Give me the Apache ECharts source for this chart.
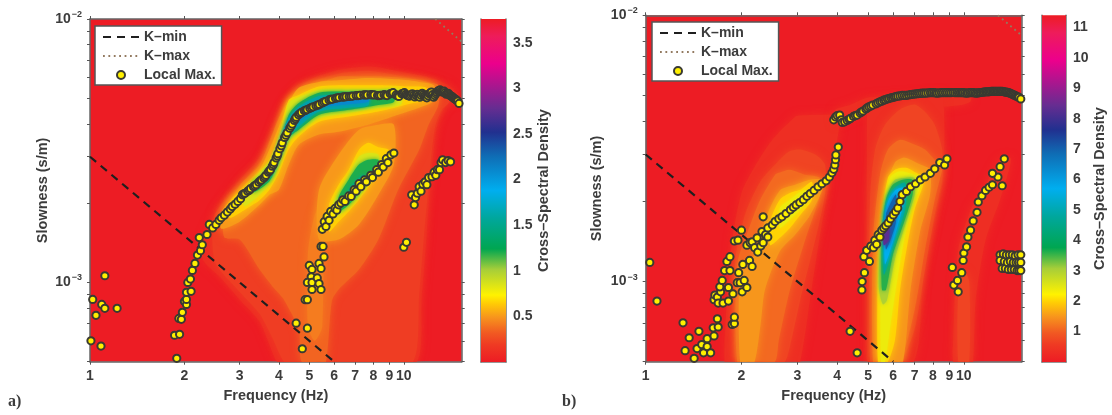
<!DOCTYPE html>
<html><head><meta charset="utf-8">
<style>html,body{margin:0;padding:0;background:#fff}#c{width:1112px;height:415px;filter:blur(.45px)}</style>
<script src="https://cdn.jsdelivr.net/npm/echarts@6/dist/echarts.min.js"></script>
</head><body><div id="c"></div>
<script>
// Slowness lists below are in units of 1e-3 s/m, frequency in Hz.
const mS = 1e-3;
const xTickValues = [1,2,3,4,5,6,7,8,9,10];
const yTickValues = [5e-4,6e-4,7e-4,8e-4,9e-4,1e-3,2e-3,3e-3,4e-3,5e-3,6e-3,7e-3,8e-3,9e-3,1e-2];
const cbTicksA = [0.5,1,1.5,2,2.5,3,3.5];
const cbTicksB = [1,2,3,4,5,6,7,8,9,10,11];
const cbMaxA = 3.76, cbMaxB = 11.4;
const kMinLine = [[1,3],[6,0.5]];
const kMaxLineA = [[12.6,10],[15.3,8.2]];
const kMaxLineB = [[12.8,10],[15.2,8.4]];

// colour bar stops: [fraction of range, colour]
const colorStops = [[0,'#ED1C24'],[.05,'#EF3A23'],[.085,'#F15A22'],[.13,'#F7941D'],[.17,'#FFCB05'],[.195,'#FFF200'],[.27,'#A6CE39'],[.33,'#00A651'],[.42,'#00A79D'],[.5,'#00AEEF'],[.6,'#0F6DB5'],[.67,'#21308F'],[.74,'#662D91'],[.87,'#EC008C'],[.95,'#EE1C5A'],[1,'#ED1C24']];

// contour bands: [level, rows of [frequency, lower slowness, upper slowness]]
const contoursA = [
 [.1,[[2.29,1.22,1.455],[2.59,1.05,1.96],[3,.86,2.46],[3.47,.71,2.97],[3.73,.58,3.48],[3.95,.5,4.15],[4.3,.5,5.05],[5,.5,5.87],[6.2,.5,6.4],[7.85,.5,6.6],[11,.5,6.14],[11.4,.86,6.1],[11.8,1.455,6.05],[12,1.97,5.98],[12.3,2.75,5.95],[12.7,3.8,5.9],[13.2,4.4,5.77],[13.9,4.8,5.6],[15,4.85,5.15]]],
 [.2,[[2.5,1.2,1.8],[3,.92,2.35],[3.47,.76,2.85],[3.8,.62,3.4],[4.15,.5,4.1],[4.4,.5,4.9],[5,.5,5.7],[6.2,.5,6.2],[7.85,.5,6.35],[10.7,.5,5.95],[11.2,.9,5.9],[11.6,1.5,5.8],[11.9,2.1,5.75],[12.2,2.9,5.7],[12.6,3.9,5.65],[13.2,4.5,5.55],[14,4.85,5.4]]],
 [.35,[[2.68,1.48,1.84],[3,1.455,2.33],[3.47,1.12,2.8],[3.86,.95,3.8],[4.15,.86,4.6],[4.63,.66,5.3],[4.73,.5,5.35],[5.37,.5,5.74],[5.65,.5,5.85],[5.9,.85,5.95],[6.2,.94,6.05],[7.2,1.12,6.05],[8.3,1.455,6.05],[9.6,2.25,6.0],[11.2,3.19,5.87],[12,3.97,5.75],[12.9,4.72,5.6]]],
 [.42,[[4.95,.68,1.3],[5.2,.6,1.8],[5.5,.68,2.0]]],
 [.5,[[2.62,1.6,1.85],[3,1.7,2.25],[3.47,1.97,2.68],[3.73,2.15,3.2],[4,2.25,3.9],[4.3,2.8,4.8],[4.63,3.33,5.48],[5.37,3.64,5.77],[6.2,3.73,5.85],[7.7,3.97,5.97],[9.6,4.33,5.9],[11.2,4.6,5.77],[12.5,4.9,5.6]]],
 [.5,[[5.37,1.455,2.25],[6.2,1.455,3.05],[7.2,1.66,3.8],[8.3,2.15,3.97],[9.3,2.8,3.97]]],
 [.65,[[2.78,1.76,2.0],[3.1,1.88,2.29],[3.3,1.97,2.45],[3.47,2.05,2.63],[3.73,2.25,2.92],[4.0,2.6,3.64],[4.3,3.2,4.93],[4.63,3.58,5.15],[5.37,4.07,5.54],[6.68,4.26,5.6],[8.3,4.45,5.6],[9.6,4.64,5.57],[10.3,4.75,5.54],[11.8,4.95,5.48]]],
 [.65,[[5.78,1.56,1.97],[6.2,1.7,2.35],[6.68,1.86,2.68],[7.2,2.06,3.19],[7.7,2.29,3.39],[8.3,2.63,3.26],[8.95,2.92,3.19]]],
 [.85,[[3.1,1.95,2.22],[3.47,2.15,2.6],[3.86,2.5,3.0],[4.15,3.2,3.9],[4.3,3.45,4.8],[4.63,3.7,5.05],[5.37,4.2,5.38],[6.68,4.4,5.4],[8.3,4.6,5.4],[9.8,4.75,5.4]]],
 [.85,[[5.95,1.75,2.0],[6.68,1.93,2.55],[7.2,2.12,3.0],[7.7,2.37,3.1],[8.3,2.68,3.05]]],
 [1.2,[[3.3,2.19,2.39],[3.73,2.42,2.68],[4,2.9,3.26],[4.3,3.55,4.33],[4.63,3.8,4.8],[5.37,4.33,5.25],[6.68,4.52,5.3],[8.3,4.72,5.3],[9.3,4.84,5.3]]],
 [1.2,[[6.2,1.86,2.11],[6.68,1.97,2.46],[7.2,2.19,2.8],[7.7,2.46,2.92],[8.3,2.73,2.92]]],
 [1.5,[[6.68,2.06,2.25],[7.45,2.35,2.57]]],
 [1.6,[[3.6,2.4,2.6],[3.86,2.65,2.9],[4.15,3.3,3.8],[4.3,3.6,4.2],[4.63,3.9,4.65],[5.37,4.45,5.1],[6.68,4.6,5.15],[7.7,4.7,5.15]]],
 [2.1,[[3.86,2.75,2.95],[4.15,3.4,3.75],[4.3,3.7,4.1],[4.63,4.07,4.5],[5.37,4.6,4.9],[6.68,4.75,5.1],[7.7,4.85,5.1]]]
];
const contoursB = [
 [.35,[[1.77,.5,.6],[1.8,.5,.85],[1.87,.5,1.43],[2.0,.5,2.15],[2.2,.5,2.7],[2.5,.5,3.41],[2.95,.5,4.16],[3.06,.5,4.2],[3.33,.95,4.22],[3.59,1.68,4.23],[3.85,2.63,4.23],[4.07,3.88,4.25]]],
 [.35,[[3.93,3.9,4.4],[4.39,4.1,4.6],[4.96,4.3,4.9],[6.3,4.4,5.0],[8.1,4.5,5.1],[9.75,4.6,5.1],[10.5,4.75,5.05]]],
 [.35,[[4.96,.55,4.5],[5,.5,4.7],[6.95,.5,4.95],[7.45,1.07,5],[8,1.6,5.05],[8.6,2.41,5.05]]],
 [.35,[[9.25,.5,.6],[9.6,.5,1.32],[10.5,.5,1.86],[10.7,.5,1.94],[10.9,.85,1.98],[11.7,1.43,2.31],[13,2.03,2.87],[14,2.75,2.92]]],
 [.7,[[9.6,.5,.9],[10,.5,1.1],[10.4,.5,1.0]]],
 [.7,[[1.91,.5,1.19],[2.05,.5,1.78],[2.29,.5,2.37],[2.55,.5,2.75],[2.74,.5,3],[2.85,.58,3.1],[3.06,.85,3.13],[3.41,1.43,3],[3.66,2.12,2.75]]],
 [1.1,[[1.94,.5,1.16],[2.13,.5,1.63],[2.29,.5,2.03],[2.55,.5,2.52],[2.62,.6,2.56],[2.84,.93,2.63],[3.17,1.43,2.52],[3.53,2.12,2.45]]],
 [1.5,[[1.98,.5,1.11],[2.1,.5,1.16],[2.2,.5,1.26],[2.3,.7,1.4],[2.37,.93,1.7],[2.64,1.3,2.2],[2.95,1.5,2.31],[3.29,1.78,2.41],[3.59,2.21,2.41]]],
 [2,[[2.46,1.37,1.68],[2.64,1.46,2.03],[2.84,1.59,2.15],[3.06,1.78,2.21],[3.33,2.03,2.37]]],
 [2.4,[[2.64,1.59,1.89],[2.84,1.71,2.03],[3.06,1.86,2.17],[3.24,2.03,2.21]]],
 [.7,[[5.07,.5,2.03],[5.26,.5,3.13],[5.65,.5,3.88],[6.3,.5,4.43],[7,.66,4.62],[7.55,1.11,4.34],[8.1,1.78,3.88],[8.55,2.41,3.13]]],
 [1.1,[[5.18,.5,1.43],[5.45,.5,2.52],[5.77,.5,3.13],[6.3,.5,3.41],[7,.78,3.27],[7.55,1.32,3.13],[8.1,2.03,2.87],[8.55,2.63,2.75]]],
 [1.5,[[5.37,.5,1.32],[5.65,.5,2.21],[6.07,.5,2.8],[6.44,.5,2.92],[6.8,.93,2.87],[7.3,1.56,2.75],[7.83,2.12,2.63]]],
 [2,[[5.37,.5,1.01],[5.53,.5,1.71],[5.77,.5,2.45],[6.07,.6,2.63],[6.3,.93,2.67],[6.64,1.37,2.67],[7,1.86,2.58],[7.45,2.31,2.47]]],
 [2.4,[[5.49,.5,1.43],[5.65,.5,1.94],[5.85,.66,2.45],[6.17,1.01,2.58],[6.54,1.5,2.58],[7,2.03,2.52],[7.3,2.25,2.45]]],
 [3,[[5.41,.93,1.16],[5.57,.82,1.63],[5.73,.85,2.12],[6.07,1.21,2.41],[6.54,1.63,2.45],[7,2.12,2.45]]],
 [3.6,[[5.53,.93,1.56],[5.69,.93,2.03],[5.98,1.26,2.31],[6.44,1.63,2.41],[6.9,2.12,2.41]]],
 [4.7,[[5.6,1.06,1.71],[5.77,1.16,2.06],[6.07,1.43,2.25],[6.54,1.86,2.35]]],
 [5.7,[[5.65,1.16,1.78],[5.81,1.26,2.03],[6.12,1.54,2.21],[6.44,1.94,2.25]]],
 [7,[[5.69,1.32,1.78],[5.85,1.41,1.94],[6.12,1.68,2.12]]],
 [8.3,[[5.6,1.37,1.54],[5.81,1.43,1.68]]]
];

// local maxima, read as [frequency, slowness]
const pointsARidge = [[1.89,.515],[1.86,.63],[1.93,.635],[1.92,.73],[1.955,.724],[1.97,.77],[2.0,.847],[2.03,.825],[2.03,.862],[2.03,.917],[2.1,.925],[2.05,1.0],[2.09,1.03],[2.12,1.11],[2.16,1.18],[2.2,1.27],[2.25,1.32],[2.23,1.48],[2.28,1.39],[2.36,1.52],[2.4,1.66],[2.46,1.61],[2.52,1.66],[2.58,1.72],[2.62,1.76],[2.68,1.8],[2.74,1.85],[2.8,1.9],[2.84,1.94],[2.9,1.98],[2.96,2.03],[3.02,2.08],[3.06,2.15],[3.12,2.18],[3.18,2.22],[3.25,2.27],[3.32,2.31],[3.39,2.35],[3.45,2.4],[3.52,2.45],[3.58,2.49],[3.64,2.55],[3.7,2.62],[3.76,2.68],[3.81,2.76],[3.86,2.85],[3.92,2.97],[3.97,3.08],[4.03,3.22],[4.1,3.39],[4.17,3.55],[4.25,3.7],[4.33,3.85],[4.41,3.99],[4.48,4.12],[4.54,4.24],[4.62,4.33],[4.72,4.42],[4.82,4.48],[4.92,4.53],[5.02,4.58],[5.14,4.64],[5.25,4.68],[5.38,4.74],[5.5,4.8],[5.64,4.87],[5.78,4.93],[5.92,4.96],[6.06,5.0],[6.22,5.03],[6.38,5.05],[6.55,5.07],[6.7,5.08],[6.88,5.1],[7.05,5.12],[7.25,5.13],[7.45,5.15],[7.65,5.15],[7.85,5.16],[8.05,5.15],[8.25,5.12],[8.45,5.13],[8.65,5.16],[8.85,5.12],[9.05,5.2],[9.25,5.25],[9.45,5.15],[9.65,5.08],[9.85,5.2],[10.05,5.25],[10.25,5.13],[10.45,5.1],[10.65,5.2],[10.85,5.06],[11.05,5.18],[11.25,5.05],[11.45,5.22],[11.65,5.1],[11.85,5.02],[12.05,5.2],[12.25,5.28],[12.45,5.05],[12.65,5.2],[12.85,5.33],[13.05,5.38],[13.25,5.28],[13.45,5.32],[13.65,5.18],[13.85,5.22],[14.05,5.12],[14.25,5.08],[14.45,5.0],[14.65,4.95],[14.85,4.88],[15.0,4.78]];
const pointsARidgeExtra = [[3.09,2.17],[3.22,2.24],[3.35,2.33],[3.49,2.43],[3.61,2.52],[3.73,2.65],[3.84,2.8],[3.95,3.02],[4.07,3.3],[4.21,3.62],[4.37,3.92],[4.51,4.18],[4.67,4.38],[4.87,4.5],[5.08,4.61],[5.32,4.71],[5.57,4.84],[5.85,4.95],[6.14,5.02],[6.46,5.06],[6.79,5.09],[7.15,5.12],[7.55,5.15],[7.95,5.15],[8.35,5.12],[8.75,5.14],[9.15,5.22],[9.55,5.11],[9.95,5.22],[10.15,5.18],[10.35,5.11],[10.55,5.15],[10.75,5.13],[10.95,5.12],[11.15,5.11],[11.35,5.13],[11.55,5.16],[11.75,5.06],[11.95,5.11],[12.15,5.24],[12.35,5.16],[12.55,5.12],[12.75,5.26],[12.95,5.35],[13.15,5.33],[13.35,5.3],[13.55,5.25],[13.75,5.2],[13.95,5.17],[14.15,5.1],[14.35,5.04],[14.55,4.97],[14.75,4.91]];
const pointsABranch = [[5.5,1.59],[5.58,1.7],[5.65,1.63],[5.7,1.78],[5.78,1.72],[5.85,1.86],[5.95,1.82],[6.04,1.91],[6.12,1.88],[6.2,1.97],[6.3,2.0],[6.4,2.06],[6.5,2.03],[6.68,2.13],[6.8,2.12],[6.95,2.25],[7.05,2.22],[7.2,2.37],[7.3,2.31],[7.5,2.45],[7.6,2.41],[7.85,2.55],[7.95,2.5],[8.2,2.68],[8.3,2.62],[8.5,2.8],[8.6,2.74],[8.8,2.95],[8.9,2.85],[9.1,3.05],[9.3,3.1]];
const pointsAHigh = [[10,1.36],[10.2,1.42],[10.6,2.15],[10.8,1.97],[10.9,2.1],[11.05,2.18],[11.2,2.31],[11.35,2.22],[11.5,2.36],[11.7,2.41],[11.85,2.35],[12.0,2.5],[12.3,2.52],[12.5,2.62],[12.65,2.55],[12.8,2.68],[13,2.68],[13.15,2.85],[13.3,2.92],[13.6,2.85],[13.85,2.9],[14.1,2.87]];
const pointsACluster = [[5,1.16],[5.37,1.18],[5.45,1.13],[5.1,1.12],[5.57,1.25],[5.45,1.37],[5.53,1.37],[5.07,1.05],[4.93,1.0],[5.1,1.0],[5.3,1.04],[5.37,.99],[5.45,.94],[5.1,.94],[4.85,.86],[4.93,.86],[4.54,.7],[4.93,.67],[4.75,.56]];
const pointsALeft = [[1.115,1.06],[1.02,.862],[1.09,.825],[1.115,.797],[1.045,.75],[1.22,.797],[1.007,.6],[1.084,.573]];

const pointsBLeft = [[1.03,1.18],[1.085,.845],[1.31,.7],[1.37,.615],[1.33,.55],[1.42,.515],[1.45,.56],[1.47,.65],[1.5,.58],[1.52,.54],[1.56,.61],[1.56,.57],[1.6,.54],[1.64,.625],[1.63,.67],[1.69,.675],[1.68,.725],[1.87,.69],[1.9,.695],[1.9,.735],[1.64,.855],[1.65,.89],[1.68,.875],[1.69,.83],[1.72,.915],[1.71,.955],[1.75,.83],[1.74,1.01],[1.82,.845],[1.82,.95],[1.88,.9],[1.77,1.1],[1.84,1.1],[1.8,1.19],[1.84,1.24],[1.94,.99],[1.98,.99],[2.01,.915],[2.08,.95],[2.04,1.01],[1.96,1.08],[2.02,1.16],[2.12,1.2],[2.16,1.14]];
const pointsBBranch2 = [[1.9,1.42],[1.95,1.43],[2.0,1.56],[2.08,1.37],[2.13,1.4],[2.16,1.41],[2.2,1.34],[2.25,1.29],[2.24,1.46],[2.3,1.36],[2.34,1.4],[2.32,1.54],[2.34,1.75],[2.38,1.5],[2.42,1.47],[2.42,1.59],[2.5,1.63],[2.55,1.68],[2.62,1.72],[2.68,1.75],[2.76,1.8],[2.85,1.86],[2.91,1.9],[2.97,1.94],[3.05,1.98],[3.13,2.03],[3.21,2.09],[3.29,2.14],[3.38,2.2],[3.48,2.27],[3.58,2.33],[3.69,2.39],[3.78,2.47],[3.85,2.56],[3.9,2.64],[3.93,2.74],[3.95,2.87],[3.96,2.99],[4.03,3.2]];
const pointsBRidge = [[3.9,4.05],[3.95,4.15],[4.0,4.2],[4.07,4.22],[4.12,4.05],[4.15,3.96],[4.22,3.98],[4.3,4.03],[4.4,4.1],[4.5,4.17],[4.62,4.22],[4.72,4.3],[4.82,4.37],[4.92,4.45],[5.03,4.53],[5.17,4.6],[5.3,4.65],[5.45,4.73],[5.6,4.8],[5.75,4.85],[5.9,4.9],[6.05,4.93],[6.2,4.97],[6.4,5],[6.6,5.0],[6.8,5.04],[7,5.06],[7.2,5.08],[7.4,5.1],[7.6,5.1],[7.85,5.12],[8.05,5.12],[8.25,5.1],[8.5,5.12],[8.75,5.12],[9,5.12],[9.25,5.13],[9.5,5.12],[9.75,5.12],[9.95,5.12],[10.2,5.1],[10.45,5.12],[10.7,5.12],[10.95,5.1],[11.2,5.12],[11.45,5.14],[11.7,5.16],[11.95,5.16],[12.2,5.18],[12.45,5.18],[12.7,5.18],[12.95,5.18],[13.2,5.18],[13.45,5.15],[13.7,5.14],[13.95,5.1],[14.2,5.05],[14.45,5],[14.7,4.95],[14.9,4.92],[15.1,4.85]];
const pointsBRidgeExtra = [[4.36,4.07],[4.56,4.2],[4.77,4.33],[4.97,4.49],[5.1,4.56],[5.37,4.69],[5.52,4.76],[5.67,4.82],[5.82,4.87],[5.97,4.91],[6.12,4.95],[6.3,4.98],[6.5,5],[6.7,5.02],[6.9,5.05],[7.1,5.07],[7.3,5.09],[7.5,5.1],[7.72,5.11],[7.95,5.12],[8.15,5.11],[8.37,5.11],[8.62,5.12],[8.87,5.12],[9.12,5.12],[9.37,5.12],[9.62,5.12],[9.85,5.12],[10.07,5.11],[10.32,5.11],[10.57,5.12],[10.82,5.11],[11.07,5.11],[11.32,5.13],[11.57,5.15],[11.82,5.16],[12.07,5.17],[12.32,5.18],[12.57,5.18],[12.82,5.18],[13.07,5.18],[13.32,5.17],[13.57,5.15],[13.82,5.12],[14.07,5.08],[14.32,5.03],[14.57,4.98],[14.8,4.93]];
const pointsBBranch5 = [[4.39,.65],[4.62,.54],[4.78,.93],[4.79,1.0],[4.87,1.08],[4.85,1.24],[4.95,1.31],[5.05,1.19],[5.1,1.36],[5.2,1.34],[5.25,1.43],[5.32,1.38],[5.38,1.5],[5.45,1.47],[5.52,1.56],[5.6,1.59],[5.68,1.62],[5.78,1.66],[5.88,1.72],[6,1.78],[6.1,1.83],[6.2,1.89],[6.3,2.0],[6.4,2.12],[6.6,2.18],[6.8,2.27],[7.05,2.33],[7.3,2.41],[7.55,2.47],[7.85,2.55],[8.1,2.65],[8.4,2.8],[8.7,2.74],[8.85,2.89]];
const pointsBHigh = [[9.2,1.13],[9.3,.97],[9.6,.915],[9.55,1.01],[9.85,1.08],[9.95,1.2],[10,1.28],[10.2,1.35],[10.3,1.47],[10.5,1.56],[10.7,1.69],[11,1.82],[11.1,1.99],[11.4,2.1],[11.7,2.2],[12,2.26],[12.3,2.31],[13.2,2.29],[12.8,2.47],[12.3,2.55],[13,2.7],[13.4,2.89]];
const pointsBRight = [[13,1.26],[13,1.2],[13.2,1.12],[13.3,1.27],[13.4,1.19],[13.5,1.12],[13.6,1.26],[13.7,1.18],[13.8,1.11],[13.9,1.26],[14,1.19],[14.1,1.11],[14.2,1.26],[14.3,1.18],[14.4,1.11],[14.5,1.25],[14.6,1.18],[14.7,1.1],[14.8,1.26],[14.85,1.18],[14.9,1.1],[15.1,1.26],[15.1,1.18],[15.1,1.1]];

const FONT = '"Liberation Sans",Arial,sans-serif', INK = '#3c3c3c';
function toRGB(h){return [1,3,5].map(i=>parseInt(h.substr(i,2),16));}
function colorAt(t){
  for(let i=1;i<colorStops.length;i++){
    if(t<=colorStops[i][0]){
      const [a,ca]=colorStops[i-1],[b,cb]=colorStops[i],u=(t-a)/(b-a),A=toRGB(ca),B=toRGB(cb);
      return 'rgb('+A.map((v,k)=>Math.round(v+(B[k]-v)*u)).join(',')+')';
    }
  }
  return colorStops[colorStops.length-1][1];
}
function contourSeries(list,maxV,xi,yi){
  return {type:'custom',xAxisIndex:xi,yAxisIndex:yi,silent:true,z:1,clip:true,coordinateSystem:'cartesian2d',
    data:list.map((b,i)=>[b[1][0][0],b[1][0][1]*mS,i]),
    encode:{x:0,y:1},
    renderItem(p,api){
      const b=list[api.value(2)],t=b[0]/maxV,c=colorAt(t);
      const up=b[1].map(r=>api.coord([r[0],r[2]*mS]));
      const lo=b[1].slice().reverse().map(r=>api.coord([r[0],r[1]*mS]));
      return {type:'polygon',shape:{points:up.concat(lo),smooth:.25},style:{fill:c,shadowBlur:t<.2?8:4,shadowColor:c}};
    }};
}
function colorbarSeries(maxV,xi,yi){
  return {type:'custom',xAxisIndex:xi,yAxisIndex:yi,silent:true,z:1,data:[[0,0]],encode:{x:0,y:1},
    renderItem(p,api){
      const a=api.coord([0,0]),b=api.coord([1,maxV]);
      return {type:'rect',shape:{x:a[0],y:b[1],width:b[0]-a[0],height:a[1]-b[1]},
        style:{fill:{type:'linear',x:0,y:1,x2:0,y2:0,colorStops:colorStops.map(s=>({offset:s[0],color:s[1]}))}}};
    }};
}
const conv = a=>a.map(p=>[p[0],p[1]*mS]);
const byFreq = (...lists)=>[].concat(...lists).sort((p,q)=>p[0]-q[0]);
function lineS(name,d,xi,yi,ls){return {type:'line',name,xAxisIndex:xi,yAxisIndex:yi,data:conv(d),showSymbol:false,symbol:'none',z:2,silent:true,lineStyle:ls,itemStyle:{color:ls.color,opacity:0}};}
function scatterS(d,xi,yi){return {type:'scatter',name:'Local Max.',xAxisIndex:xi,yAxisIndex:yi,data:conv(d),symbolSize:7.2,z:3,silent:true,itemStyle:{color:'#FFF000',borderColor:'#3a3a32',borderWidth:2,opacity:1}};}

const tickStyle={length:3,lineStyle:{color:'#555',width:1}};
const labelFont={fontFamily:FONT,fontWeight:'bold',fontSize:14,color:INK};
const nameFont=Object.assign({},labelFont,{fontSize:14.5});
function xAx(grid,max,pos,showLabel,name){
  return {type:'log',logBase:10,gridIndex:grid,min:1,max,position:pos,
    name:name||'',nameLocation:'middle',nameGap:27,nameTextStyle:nameFont,
    axisLine:{show:true,onZero:false,lineStyle:{color:'#666',width:1.5}},
    axisTick:Object.assign({show:true,customValues:xTickValues},tickStyle),
    axisLabel:Object.assign({show:showLabel,customValues:xTickValues,margin:7,hideOverlap:false,formatter:v=>String(Math.round(v))},labelFont),
    minorTick:{show:false},splitLine:{show:false},minorSplitLine:{show:false}};
}
function yAx(grid,pos,showLabel,name,gap){
  return {type:'log',logBase:10,gridIndex:grid,min:5e-4,max:1e-2,position:pos,
    name:name||'',nameLocation:'middle',nameGap:gap||38,nameTextStyle:nameFont,
    axisLine:{show:true,onZero:false,lineStyle:{color:'#666',width:1.5}},
    axisTick:Object.assign({show:true,customValues:yTickValues},tickStyle),
    axisLabel:{show:showLabel,customValues:[1e-3,1e-2],margin:8,
      formatter:v=>'{b|10}{s|'+(v>5e-3?'−2':'−3')+'}',
      rich:{b:labelFont,s:{fontFamily:FONT,fontWeight:'bold',fontSize:9,color:INK,padding:[0,0,9,1]}}},
    minorTick:{show:false},splitLine:{show:false},minorSplitLine:{show:false}};
}
function cbAxis(grid,maxV,ticks,pos,showLabel,gap){
  return {type:'value',gridIndex:grid,min:0,max:maxV,position:pos,
    name:showLabel?'Cross–Spectral Density':'',nameLocation:'middle',nameGap:gap||29,nameRotate:90,nameTextStyle:nameFont,
    axisLine:{show:true,onZero:false,lineStyle:{color:'#777',width:1.5}},
    axisTick:{show:true,inside:true,length:3,customValues:ticks,lineStyle:{color:'#444',width:1}},
    axisLabel:Object.assign({show:showLabel,customValues:ticks,margin:7,formatter:v=>String(v)},labelFont),
    splitLine:{show:false}};
}
function cbX(grid){return {type:'value',gridIndex:grid,min:0,max:1,show:true,position:'bottom',axisLine:{show:true,onZero:false,lineStyle:{color:'#777',width:1.5}},axisTick:{show:false},axisLabel:{show:false},splitLine:{show:false}};}
function legendAt(left,top){
  return {orient:'vertical',left,top,padding:[4,6,3,7],itemWidth:36,itemHeight:8,itemGap:5,
    backgroundColor:'#fff',borderColor:'#555',borderWidth:1.5,borderRadius:0,selectedMode:false,
    textStyle:labelFont,data:['K–min','K–max','Local Max.']};
}
const dash={color:'#1f1f1f',width:2.2,type:[8,6]}, dots={color:'#937a60',width:1.8,type:[1.8,3.6]};
const option={
  animation:false,backgroundColor:'#fff',
  grid:[
    {left:90,top:19,width:371.7,height:342.7,show:true,backgroundColor:'#ED1C24',borderWidth:0},
    {left:645.7,top:15.3,width:376,height:346.4,show:true,backgroundColor:'#ED1C24',borderWidth:0},
    {left:481,top:19,width:25,height:343,show:false},
    {left:1042,top:15.3,width:24,height:346.7,show:false}
  ],
  xAxis:[xAx(0,15.3,'bottom',true,'Frequency (Hz)'),xAx(0,15.3,'top',false),xAx(1,15.2,'bottom',true,'Frequency (Hz)'),xAx(1,15.2,'top',false),cbX(2),cbX(3)],
  yAxis:[yAx(0,'left',true,'Slowness (s/m)',40),yAx(0,'right',false),yAx(1,'left',true,'Slowness (s/m)',41),yAx(1,'right',false),
    cbAxis(2,cbMaxA,cbTicksA,'right',true,29),cbAxis(2,cbMaxA,cbTicksA,'left',false),cbAxis(3,cbMaxB,cbTicksB,'right',true,26),cbAxis(3,cbMaxB,cbTicksB,'left',false)],
  legend:[legendAt(95,26),legendAt(652,22)],
  series:[
    contourSeries(contoursA,cbMaxA,0,0),
    lineS('K–min',kMinLine,0,0,dash),
    lineS('K–max',kMaxLineA,0,0,dots),
    scatterS([].concat(pointsALeft,byFreq(pointsARidge,pointsARidgeExtra),pointsACluster,pointsABranch,pointsAHigh),0,0),
    contourSeries(contoursB,cbMaxB,2,2),
    lineS('K–min',kMinLine,2,2,dash),
    lineS('K–max',kMaxLineB,2,2,dots),
    scatterS([].concat(pointsBLeft,pointsBBranch2,byFreq(pointsBRidge,pointsBRidgeExtra),pointsBBranch5,pointsBHigh,pointsBRight),2,2),
    colorbarSeries(cbMaxA,4,4),
    colorbarSeries(cbMaxB,5,6)
  ],
  graphic:[
    {type:'text',left:8,top:394,style:{text:'a)',fontFamily:'"Liberation Serif",serif',fontSize:16,fontWeight:'bold',fill:INK}},
    {type:'text',left:562,top:394,style:{text:'b)',fontFamily:'"Liberation Serif",serif',fontSize:16,fontWeight:'bold',fill:INK}}
  ]
};
echarts.init(document.getElementById('c'),null,{renderer:'canvas'}).setOption(option);
</script></body></html>
